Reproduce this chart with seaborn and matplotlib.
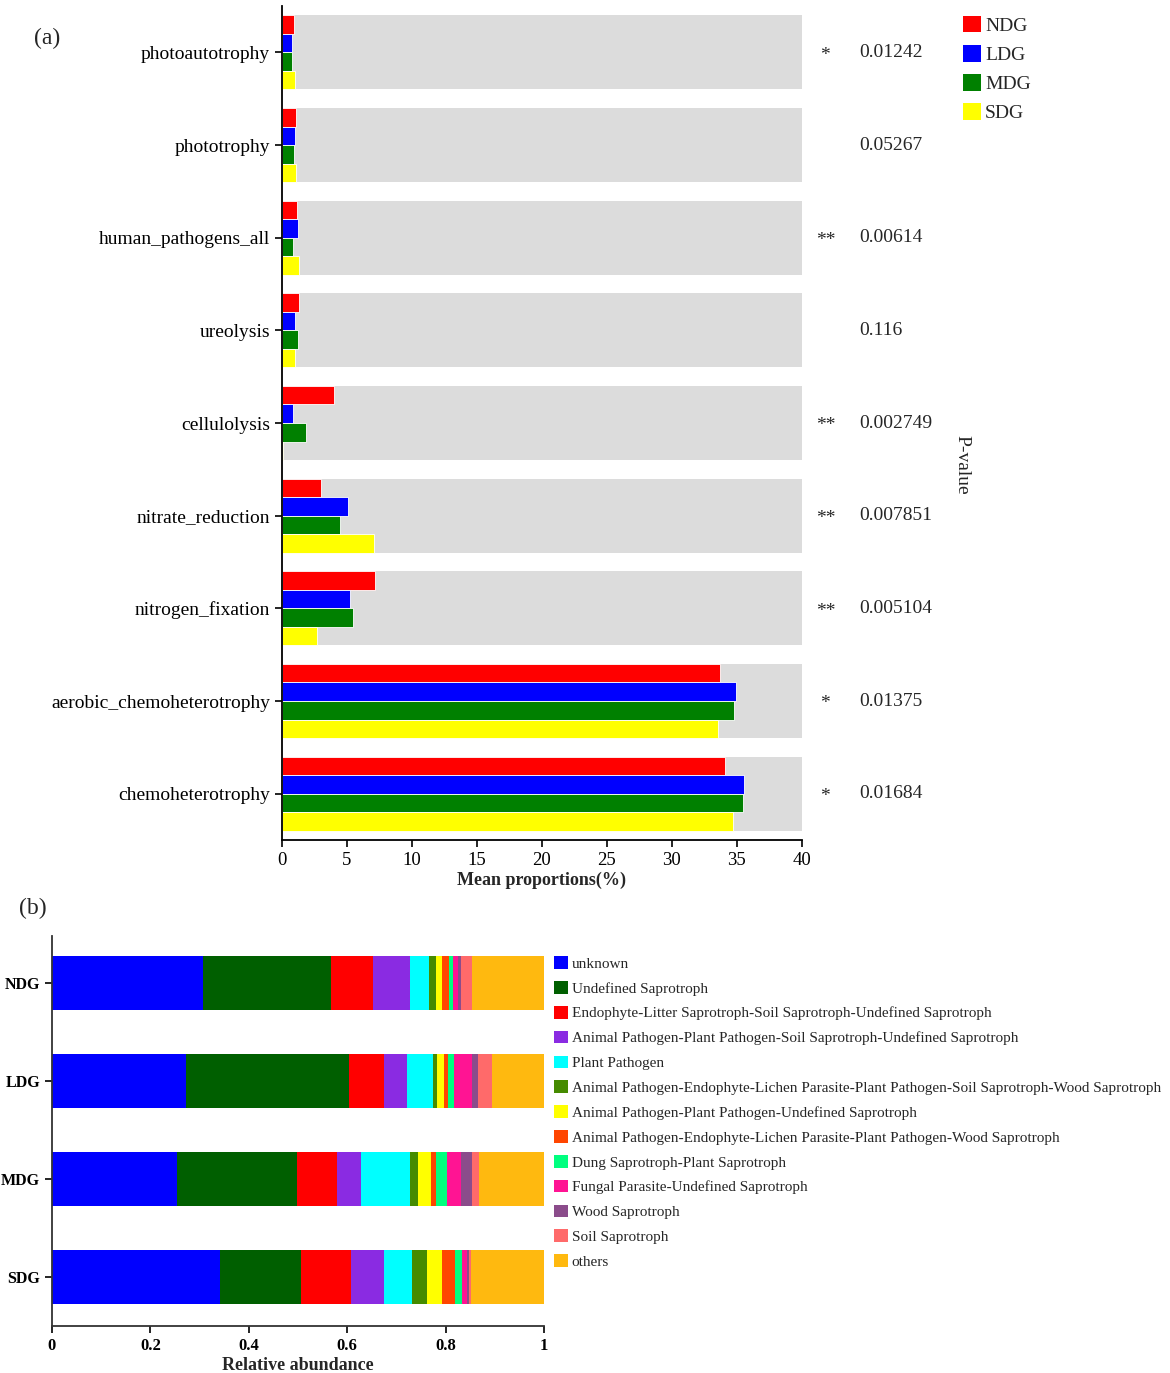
import numpy as np
import pandas as pd
import matplotlib
matplotlib.use("Agg")
import matplotlib.pyplot as plt
from matplotlib.patches import Patch
import seaborn as sns

# ---- panel (a) data: mean proportions (%) per function ----
functions = ["photoautotrophy", "phototrophy", "human_pathogens_all", "ureolysis",
             "cellulolysis", "nitrate_reduction", "nitrogen_fixation",
             "aerobic_chemoheterotrophy", "chemoheterotrophy"]
groups = ["NDG", "LDG", "MDG", "SDG"]
ndg = [0.92, 1.05, 1.13, 1.31, 3.97, 3.00, 7.13, 33.66, 34.09]
ldg = [0.79, 1.00, 1.23, 1.03, 0.82, 5.10, 5.21, 34.93, 35.52]
mdg = [0.74, 0.92, 0.82, 1.23, 1.82, 4.50, 5.45, 34.77, 35.44]
sdg = [1.03, 1.10, 1.33, 1.03, 0.10, 7.07, 2.67, 33.52, 34.66]
stars = ["*", "", "**", "", "**", "**", "**", "*", "*"]
pvalues = ["0.01242", "0.05267", "0.00614", "0.116", "0.002749",
           "0.007851", "0.005104", "0.01375", "0.01684"]
group_colors = ["#FF0000", "#0000FF", "#008000", "#FFFF00"]

# ---- panel (b) data: relative abundance of guilds per group ----
guilds = ["unknown", "Undefined Saprotroph",
          "Endophyte-Litter Saprotroph-Soil Saprotroph-Undefined Saprotroph",
          "Animal Pathogen-Plant Pathogen-Soil Saprotroph-Undefined Saprotroph",
          "Plant Pathogen",
          "Animal Pathogen-Endophyte-Lichen Parasite-Plant Pathogen-Soil Saprotroph-Wood Saprotroph",
          "Animal Pathogen-Plant Pathogen-Undefined Saprotroph",
          "Animal Pathogen-Endophyte-Lichen Parasite-Plant Pathogen-Wood Saprotroph",
          "Dung Saprotroph-Plant Saprotroph",
          "Fungal Parasite-Undefined Saprotroph",
          "Wood Saprotroph", "Soil Saprotroph", "others"]
ab_ndg = [0.308, 0.259, 0.085, 0.075, 0.040, 0.014, 0.012, 0.015, 0.008, 0.009, 0.006, 0.023, 0.146]
ab_ldg = [0.272, 0.332, 0.071, 0.047, 0.052, 0.009, 0.014, 0.009, 0.011, 0.037, 0.011, 0.030, 0.105]
ab_mdg = [0.255, 0.243, 0.081, 0.050, 0.099, 0.017, 0.026, 0.010, 0.022, 0.028, 0.023, 0.014, 0.132]
ab_sdg = [0.342, 0.165, 0.101, 0.067, 0.056, 0.031, 0.031, 0.027, 0.014, 0.010, 0.003, 0.004, 0.149]
guild_colors = ["#0000FF", "#005F00", "#FF0000", "#8A2BE2", "#00FFFF", "#458B00",
                "#FFFF00", "#FF4500", "#00FF7F", "#FF1493", "#8B4C8B", "#FF6A6A", "#FFB90F"]

sns.set_style("ticks")
plt.rcParams["font.family"] = ["Liberation Serif", "DejaVu Serif"]

fig = plt.figure(figsize=(11.7, 13.73), dpi=100)

# ================= panel (a) =================
ax = fig.add_axes([0.241, 0.3882, 0.4444, 0.6074])

df_a = pd.DataFrame({"function": functions * 4,
                     "group": np.repeat(groups, len(functions)),
                     "value": ndg + ldg + mdg + sdg})

sns.barplot(x=[40] * len(functions), y=functions, color="#DCDCDC", width=0.8,
            saturation=1, orient="h", linewidth=0, ax=ax)
sns.barplot(data=df_a, x="value", y="function", hue="group", order=functions,
            hue_order=groups, palette=group_colors, width=0.8, saturation=1,
            orient="h", edgecolor="white", linewidth=0.6, legend=False, ax=ax)

ax.set_xlim(0, 40)
ax.set_ylim(8.5, -0.5)
ax.set_xticks(np.arange(0, 41, 5))
ax.tick_params(axis="both", labelsize=14, direction="out", length=5, width=1.2, colors="black")
ax.tick_params(axis="x", labelsize=13.5)
ax.set_ylabel("")
ax.set_xlabel("Mean proportions(%)", fontsize=13, fontweight="bold", labelpad=2)
for s in ["top", "right"]:
    ax.spines[s].set_visible(False)
for s in ["left", "bottom"]:
    ax.spines[s].set_linewidth(1.3)
    ax.spines[s].set_color("black")

for i, (st, pv) in enumerate(zip(stars, pvalues)):
    ax.text(41.8, i + 0.03, st, ha="center", va="center", fontsize=14, clip_on=False)
    ax.text(44.4, i, pv, ha="left", va="center", fontsize=14, clip_on=False)
fig.text(962 / 1170, 1 - 465 / 1373, "P-value", rotation=270, ha="center", va="center", fontsize=14)

handles_a = [Patch(facecolor=c, edgecolor="none", label=g) for g, c in zip(groups, group_colors)]
fig.legend(handles=handles_a, loc="upper left", bbox_to_anchor=(949 / 1170, 1 - 2 / 1373),
           frameon=False, fontsize=14, handlelength=0.95, handleheight=0.95,
           handletextpad=0.2, labelspacing=0.52, borderpad=0.2)

fig.text(34 / 1170, 1 - 38 / 1373, "(a)", ha="left", va="center", fontsize=17)

# ================= panel (b) =================
axb = fig.add_axes([0.0444, 0.0342, 0.4205, 0.2841])

ab = np.array([ab_ndg, ab_ldg, ab_mdg, ab_sdg])
cum = np.cumsum(ab, axis=1)
df_b = pd.DataFrame(cum, columns=guilds)
df_b["group"] = groups

# stacked bars: draw cumulative totals from the last guild to the first
for j in range(len(guilds) - 1, -1, -1):
    sns.barplot(data=df_b, x=guilds[j], y="group", order=groups, color=guild_colors[j],
                width=0.55, saturation=1, orient="h", linewidth=0, ax=axb)

axb.set_xlim(0, 1)
axb.set_ylim(3.5, -0.48)
axb.set_xticks([0, 0.2, 0.4, 0.6, 0.8, 1])
axb.set_xticklabels(["0", "0.2", "0.4", "0.6", "0.8", "1"])
axb.tick_params(axis="both", labelsize=11.5, direction="out", length=5, width=1.2, colors="black")
axb.tick_params(axis="x", labelsize=12)
for lab in axb.get_xticklabels() + axb.get_yticklabels():
    lab.set_fontweight("bold")
axb.set_ylabel("")
axb.set_xlabel("Relative abundance", fontsize=13, fontweight="bold", labelpad=2)
for s in ["top", "right"]:
    axb.spines[s].set_visible(False)
for s in ["left", "bottom"]:
    axb.spines[s].set_linewidth(1.3)
    axb.spines[s].set_color("#333333")

handles_b = [Patch(facecolor=c, edgecolor="none", label=g) for g, c in zip(guilds, guild_colors)]
fig.legend(handles=handles_b, loc="upper left", bbox_to_anchor=(545 / 1170, 1 - 947 / 1373),
           frameon=False, fontsize=11, handlelength=0.9, handleheight=0.9,
           handletextpad=0.25, labelspacing=0.67, borderpad=0.1)

fig.text(19 / 1170, 1 - 908 / 1373, "(b)", ha="left", va="center", fontsize=17)

fig.savefig("out.png", dpi=100)
